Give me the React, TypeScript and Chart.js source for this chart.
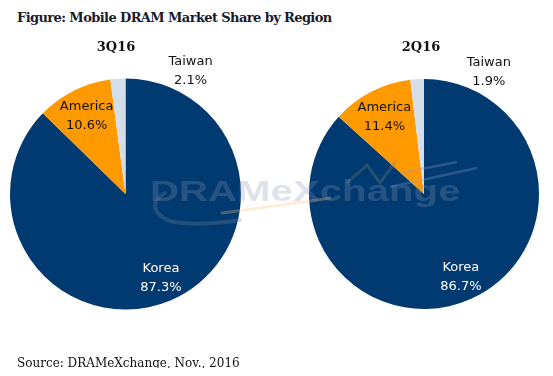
import React, { useEffect, useRef } from "react";
import { Chart, registerables } from "chart.js";

Chart.register(...registerables);

const regions = ["Korea", "America", "Taiwan"];
const share3Q16 = [87.3, 10.6, 2.1];
const share2Q16 = [86.7, 11.4, 1.9];
const colors = ["#003A70", "#FF9900", "#D3DEE9"];
const labelColors = ["#FFFFFF", "#111111", "#111111"];

const labelPlugin = {
  id: "sliceLabels",
  afterDatasetsDraw(chart: any) {
    const ctx = chart.ctx;
    const meta = chart.getDatasetMeta(0);
    const data = chart.data.datasets[0].data as number[];
    ctx.save();
    ctx.font = "13px 'DejaVu Sans'";
    ctx.textAlign = "center";
    ctx.textBaseline = "middle";
    meta.data.forEach((arc: any, i: number) => {
      const p = arc.getProps(["x", "y", "startAngle", "endAngle", "outerRadius"], true);
      let ang: number;
      let dist: number;
      if (i === 2) {
        ang = p.endAngle + (28 * Math.PI) / 180;
        dist = p.outerRadius * 1.2;
      } else {
        ang = (p.startAngle + p.endAngle) / 2;
        dist = p.outerRadius * (i === 0 ? 0.79 : 0.75);
      }
      const cx = p.x + Math.cos(ang) * dist;
      const cy = p.y + Math.sin(ang) * dist;
      ctx.fillStyle = labelColors[i];
      ctx.fillText(regions[i], cx, cy - 9.5);
      ctx.fillText(data[i].toFixed(1) + "%", cx, cy + 9.5);
    });
    ctx.restore();
  },
};

function PieChart({ values, padding }: { values: number[]; padding: any }) {
  const ref = useRef<HTMLCanvasElement>(null);
  useEffect(() => {
    const chart = new Chart(ref.current as HTMLCanvasElement, {
      type: "pie",
      data: {
        labels: regions,
        datasets: [
          {
            data: values,
            backgroundColor: colors,
            borderWidth: 0,
          },
        ],
      },
      options: {
        animation: false,
        responsive: false,
        layout: { padding },
        plugins: {
          legend: { display: false },
          tooltip: { enabled: false },
          title: { display: false },
        },
      },
      plugins: [labelPlugin],
    });
    return () => chart.destroy();
  }, []);
  return <canvas ref={ref} width={276} height={290} style={{ width: 276, height: 290, display: "block" }} />;
}

export default function App() {
  return (
    <div style={{ position: "relative", width: 553, height: 376, margin: -8, background: "#fff", overflow: "hidden" }}>
      <div
        style={{
          position: "absolute",
          left: 17,
          top: 10,
          font: "bold 13px 'DejaVu Serif'",
          letterSpacing: "-0.6px",
          color: "#1a1a2a",
          whiteSpace: "nowrap",
        }}
      >
        Figure: Mobile DRAM Market Share by Region
      </div>
      <div style={{ position: "absolute", left: 0, top: 35 }}>
        <PieChart values={share3Q16} padding={{ left: 10, right: 35, top: 43.5, bottom: 15.5 }} />
      </div>
      <div style={{ position: "absolute", left: 277, top: 35 }}>
        <PieChart values={share2Q16} padding={{ left: 32, right: 14, top: 43.5, bottom: 15.5 }} />
      </div>
      <div style={{ position: "absolute", left: 76, width: 80, textAlign: "center", top: 39, font: "bold 13px 'DejaVu Serif'", color: "#111" }}>
        3Q16
      </div>
      <div style={{ position: "absolute", left: 381, width: 80, textAlign: "center", top: 39, font: "bold 13px 'DejaVu Serif'", color: "#111" }}>
        2Q16
      </div>
      <svg
        width={553}
        height={376}
        style={{ position: "absolute", left: 0, top: 0, pointerEvents: "none" }}
      >
        <path d="M 165 193 C 152 200, 150 213, 170 221 C 190 226, 220 223, 240 220" stroke="rgba(120,135,165,0.28)" strokeWidth={4} fill="none" strokeLinecap="round" />
        <path d="M 222 213 C 260 208, 300 203, 330 198" stroke="rgba(245,200,130,0.3)" strokeWidth={3} fill="none" strokeLinecap="round" />
        <path d="M 347 183 L 367 165 L 380 183 L 396 161" stroke="rgba(120,135,110,0.3)" strokeWidth={3} fill="none" />
        <path d="M 390 187 L 477 168 M 400 173 L 457 162" stroke="rgba(140,160,200,0.3)" strokeWidth={2.5} fill="none" />
      </svg>
      <div
        style={{
          position: "absolute",
          left: 150,
          top: 174,
          font: "bold 30px 'Liberation Sans'",
          color: "rgba(140,150,180,0.28)",
          whiteSpace: "nowrap",
          pointerEvents: "none",
          transform: "scaleX(1.34)",
          transformOrigin: "left top",
        }}
      >
        DRAMeXchange
      </div>
      <div
        style={{
          position: "absolute",
          left: 17,
          top: 356,
          font: "12px 'DejaVu Serif'",
          color: "#111",
          whiteSpace: "nowrap",
        }}
      >
        Source: DRAMeXchange, Nov., 2016
      </div>
    </div>
  );
}
